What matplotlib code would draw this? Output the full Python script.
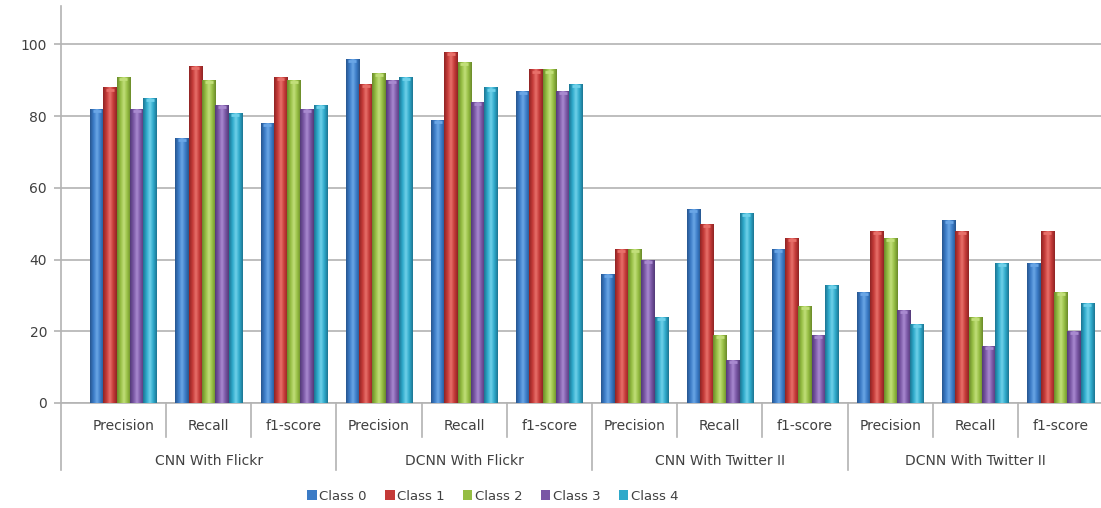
import numpy as np
import matplotlib
matplotlib.use("Agg")
import matplotlib.pyplot as plt
from matplotlib.colors import LinearSegmentedColormap

models = ["CNN With Flickr", "DCNN With Flickr", "CNN With Twitter II", "DCNN With Twitter II"]
metrics = ["Precision", "Recall", "f1-score"]
classes = ["Class 0", "Class 1", "Class 2", "Class 3", "Class 4"]

# one list per class, 12 values: model x metric
class0 = [82, 74, 78, 96, 79, 87, 36, 54, 43, 31, 51, 39]
class1 = [88, 94, 91, 89, 98, 93, 43, 50, 46, 48, 48, 48]
class2 = [91, 90, 90, 92, 95, 93, 43, 19, 27, 46, 24, 31]
class3 = [82, 83, 82, 90, 84, 87, 40, 12, 19, 26, 16, 20]
class4 = [85, 81, 83, 91, 88, 89, 24, 53, 33, 22, 39, 28]
values = [class0, class1, class2, class3, class4]

# (dark, base, light) shades for the cylinder look
shades = [("#27568f", "#3b7bc6", "#6aa6e6"),
          ("#8f2424", "#c43a38", "#e8706a"),
          ("#6a8a2a", "#95bd43", "#c2df7a"),
          ("#533a78", "#7a57a5", "#a98ad0"),
          ("#1c7592", "#2ea9ca", "#6fd1ea")]

W, H = 1101, 508
fig = plt.figure(figsize=(W / 100, H / 100), dpi=100)
ax = fig.add_axes([61 / W, 1 - 403 / H, 1040 / W, 397 / H])

slot = 85.2
x0 = -(123.4 - 61) / slot
n = len(classes)
bw = 0.78 / n
x = np.arange(len(models) * len(metrics))
grey = "#b3b3b3"
for i, (vals, (dk, base, lt)) in enumerate(zip(values, shades)):
    bars = ax.bar(x - 0.39 + bw * (i + 0.5), vals, width=bw, color=base,
                  label=classes[i], zorder=3, linewidth=0)
    cmap = LinearSegmentedColormap.from_list("c%d" % i, [dk, base, lt, base, dk])
    grad = np.linspace(0, 1, 64).reshape(1, -1)
    for b in bars:
        im = ax.imshow(grad, cmap=cmap, aspect="auto", zorder=4,
                       extent=[b.get_x(), b.get_x() + b.get_width(), 0, b.get_height()])
        im.set_clip_path(b)
        # light top cap
        ax.plot([b.get_x() + b.get_width() * 0.2, b.get_x() + b.get_width() * 0.8],
                [b.get_height() - 0.6, b.get_height() - 0.6], color=lt, lw=2,
                solid_capstyle="butt", zorder=5)

ax.set_xlim(x0, x0 + 1040 / slot)
ax.set_ylim(0, 110.7)
ax.set_yticks([0, 20, 40, 60, 80, 100])
ax.yaxis.grid(True, color=grey, lw=1.2, zorder=0)
ax.set_axisbelow(True)
ax.set_xticks([])
for s in ["top", "right"]:
    ax.spines[s].set_visible(False)
for s in ["left", "bottom"]:
    ax.spines[s].set_color(grey)
    ax.spines[s].set_linewidth(1.2)
ax.tick_params(axis="y", length=5, width=1.2, color=grey, labelsize=10,
               labelcolor="#404040", pad=5)

# two-level category axis
tr = ax.get_xaxis_transform()
txt = dict(color="#404040", fontsize=10, ha="center", va="center", transform=tr)
for j in range(len(x)):
    ax.text(x[j], -23 / 397, metrics[j % 3], **txt)
for m in range(len(models)):
    ax.text(x[3 * m + 1], -58 / 397, models[m], **txt)
for k in range(len(x) + 1):
    xb = x0 if k == 0 else k - 0.5
    depth = 67 if k % 3 == 0 else 34
    ax.plot([xb, xb], [0, -depth / 397], transform=tr, color=grey, lw=1.2,
            clip_on=False)

ax.legend(loc="center", bbox_to_anchor=(493 / W, 1 - 496 / H),
          bbox_transform=fig.transFigure, ncol=5, frameon=False,
          fontsize=9.5, handlelength=0.7, handleheight=0.7, handletextpad=0.2,
          columnspacing=1.4, labelcolor="#404040")

fig.savefig("out.png", dpi=100)
